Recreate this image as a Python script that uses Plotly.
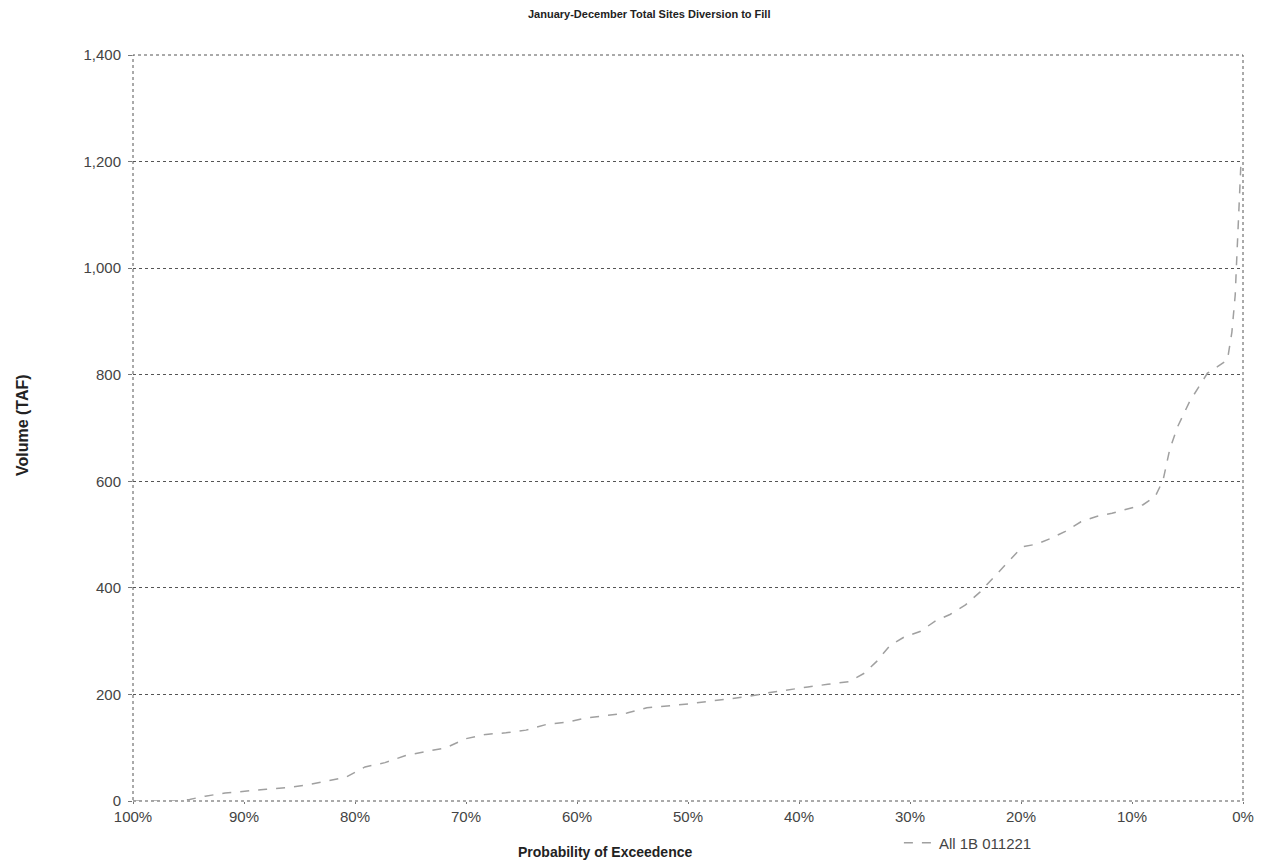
import plotly.graph_objects as go

# Exceedence curve: probability (%) and annual diversion to fill (TAF)
exceed_pct = [100.0, 97.0, 95.8, 94.9, 93.5, 91.7, 89.9, 88.0, 86.2, 84.4, 82.6, 80.8,
              79.1, 77.3, 75.5, 73.7, 71.8, 70.0, 68.2, 66.4, 64.6, 62.7, 60.9, 59.1,
              57.3, 55.5, 53.7, 51.9, 50.0, 48.2, 46.4, 44.6, 42.8, 41.0, 39.2, 37.4,
              35.5, 34.1, 33.0, 31.8, 30.5, 29.1, 27.7, 26.4, 25.0, 23.7, 22.4, 21.1,
              19.9, 18.6, 17.4, 16.0, 14.6, 13.2, 11.8, 10.4, 9.0, 7.9, 7.2, 6.6,
              5.9, 4.8, 3.2, 2.3, 1.4, 1.0, 0.7, 0.6, 0.45, 0.3, 0.2]
volume_taf = [0, 0, 0, 3, 9, 15, 19, 22, 25, 30, 37, 45,
              64, 72, 85, 92, 100, 117, 125, 128, 133, 144, 148, 156,
              161, 165, 175, 178, 182, 187, 192, 196, 203, 209, 214, 219,
              224, 240, 262, 292, 308, 318, 338, 350, 368, 392, 420, 450,
              477, 482, 492, 506, 524, 534, 540, 548, 556, 572, 602, 660,
              702, 750, 803, 815, 828, 880, 950, 1000, 1080, 1150, 1190]

x_ticks = [100, 90, 80, 70, 60, 50, 40, 30, 20, 10, 0]
x_tick_text = [f"{v}%" for v in x_ticks]
y_ticks = [0, 200, 400, 600, 800, 1000, 1200, 1400]

series_name = "All 1B 011221"

fig = go.Figure()
fig.add_trace(go.Scatter(
    x=exceed_pct, y=volume_taf, mode="lines", name=series_name,
    line=dict(color="#a0a0a0", width=1.5, dash="dash"),
))

axis_font = dict(family="Liberation Sans, Arial, sans-serif", size=15, color="#444444")

fig.update_layout(
    width=1265, height=863,
    margin=dict(l=133, r=22, t=55, b=62, autoexpand=False),
    paper_bgcolor="white", plot_bgcolor="white",
    font=axis_font,
    showlegend=True,
    legend=dict(orientation="h", x=0.69, y=-0.0563, xanchor="left", yanchor="middle",
                font=dict(size=15, color="#444444"), bgcolor="rgba(0,0,0,0)",
                itemwidth=30),
    xaxis=dict(range=[100, 0], tickvals=x_ticks, ticktext=x_tick_text,
               showgrid=False, zeroline=False, showline=False,
               ticks="outside", ticklen=2, tickcolor="#777777",
               ticklabelstandoff=0, tickfont=axis_font),
    yaxis=dict(range=[0, 1400], tickvals=y_ticks, tickformat=",d",
               showgrid=True, gridcolor="#555555", griddash="dot", gridwidth=1,
               zeroline=False, showline=False,
               ticks="outside", ticklen=4, tickcolor="#777777",
               ticklabelstandoff=4, tickfont=axis_font),
    shapes=[dict(type="rect", xref="paper", yref="paper", x0=0, y0=0, x1=1, y1=1,
                 line=dict(color="#555555", width=1, dash="dot"), layer="below")],
    annotations=[
        dict(text="<b>January-December Total Sites Diversion to Fill</b>",
             xref="paper", yref="paper", x=0.465, y=1.0, yshift=41,
             showarrow=False, font=dict(size=11, color="#222222"),
             xanchor="center", yanchor="middle"),
        dict(text="<b>Probability of Exceedence</b>",
             xref="paper", yref="paper", x=0.425, y=0, yshift=-51,
             showarrow=False, font=dict(size=14, color="#222222"),
             xanchor="center", yanchor="middle"),
        dict(text="<b>Volume (TAF)</b>",
             xref="paper", yref="paper", x=0, xshift=-111, y=0.504,
             showarrow=False, textangle=-90, font=dict(size=16, color="#222222"),
             xanchor="center", yanchor="middle"),
    ],
)

fig.write_html("out.html")
